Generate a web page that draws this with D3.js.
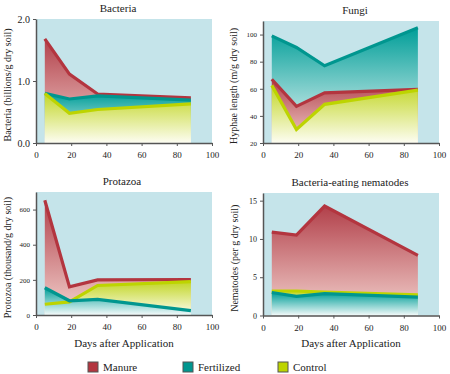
<!DOCTYPE html>
<html lang="en">
<head>
    <meta charset="UTF-8">
    <title>Soil organisms after application</title>
    <script src="https://d3js.org/d3.v7.min.js"></script>
    <style>
        body { margin: 0; background: #fff; }
        svg text { font-family: "Liberation Serif", "DejaVu Serif", Times, serif !important; fill: #222; }
    </style>
</head>
<body>
<div id="chart"></div>
<script>
    // data
    const days = [5, 19, 35, 88];
    const xTicks = [0, 20, 40, 60, 80, 100];
    const seriesNames = ["Manure", "Fertilized", "Control"];

    const bacteriaManure = [1.68, 1.11, 0.79, 0.73];
    const bacteriaFertilized = [0.80, 0.71, 0.76, 0.69];
    const bacteriaControl = [0.80, 0.48, 0.54, 0.63];
    const bacteriaTicks = [0, 1, 2];

    const fungiManure = [67, 47, 57, 59.5];
    const fungiFertilized = [99, 90.5, 77, 105];
    const fungiControl = [62.5, 30, 48.5, 59];
    const fungiTicks = [20, 40, 60, 80, 100];

    const protozoaManure = [653, 160, 200, 202];
    const protozoaFertilized = [155, 81, 89, 25];
    const protozoaControl = [61, 75, 168, 190];
    const protozoaTicks = [0, 200, 400, 600];

    const nematodeManure = [10.9, 10.5, 14.3, 7.85];
    const nematodeFertilized = [3.0, 2.5, 2.85, 2.4];
    const nematodeControl = [3.2, 3.2, 3.05, 2.7];
    const nematodeTicks = [0, 5, 10, 15];

    const lineColor = { Manure: "#b3353f", Fertilized: "#00968f", Control: "#bdd400" };
    const topColor = { Manure: "#b2404a", Fertilized: "#009e98", Control: "#c2d626" };
    const bottomColor = { Manure: "#f3d2ce", Fertilized: "#f4fafa", Control: "#fdfdf2" };

    const W = 450, H = 374;
    const svg = d3.select("#chart").append("svg")
        .attr("width", W).attr("height", H);
    const defs = svg.append("defs");

    seriesNames.forEach(name => {
        const g = defs.append("linearGradient")
            .attr("id", "grad-" + name)
            .attr("x1", 0).attr("y1", 0).attr("x2", 0).attr("y2", 1);
        g.append("stop").attr("offset", "0%").attr("stop-color", topColor[name]);
        g.append("stop").attr("offset", "100%").attr("stop-color", bottomColor[name]);
    });

    const panels = [
        {
            title: "Bacteria", ylabel: "Bacteria (billions/g dry soil)",
            left: 36, top: 19, bottom: 143, width: 176, yDomain: [0, 2],
            ticks: bacteriaTicks, fmt: d3.format(".1f"), tickSize: 10, titleX: 118, labelX: 7,
            series: { Manure: bacteriaManure, Fertilized: bacteriaFertilized, Control: bacteriaControl },
            order: ["Manure", "Fertilized", "Control"]
        },
        {
            title: "Fungi", ylabel: "Hyphae length (m/g dry soil)",
            left: 263, top: 21, bottom: 143, width: 176, yDomain: [20, 110],
            ticks: fungiTicks, fmt: d3.format("d"), tickSize: 7, titleX: 355, labelX: 233,
            series: { Manure: fungiManure, Fertilized: fungiFertilized, Control: fungiControl },
            order: ["Fertilized", "Manure", "Control"]
        },
        {
            title: "Protazoa", ylabel: "Protozoa (thousand/g dry soil)",
            left: 36, top: 192, bottom: 315, width: 176, yDomain: [0, 700],
            ticks: protozoaTicks, fmt: d3.format("d"), tickSize: 7, titleX: 122, labelX: 7,
            series: { Manure: protozoaManure, Fertilized: protozoaFertilized, Control: protozoaControl },
            order: ["Manure", "Control", "Fertilized"], xlabel: true
        },
        {
            title: "Bacteria-eating nematodes", ylabel: "Nematodes (per g dry soil)",
            left: 263, top: 193, bottom: 315.5, width: 176, yDomain: [0, 16],
            ticks: nematodeTicks, fmt: d3.format("d"), tickSize: 8, titleX: 350, labelX: 234,
            series: { Manure: nematodeManure, Fertilized: nematodeFertilized, Control: nematodeControl },
            order: ["Manure", "Control", "Fertilized"], xlabel: true
        }
    ];

    panels.forEach(p => {
        const x = d3.scaleLinear().domain([0, 100]).range([p.left, p.left + p.width]);
        const y = d3.scaleLinear().domain(p.yDomain).range([p.bottom, p.top]);
        const g = svg.append("g");

        // plot background
        g.append("rect")
            .attr("x", x(0)).attr("y", p.top)
            .attr("width", x(100) - x(0)).attr("height", p.bottom - p.top)
            .attr("fill", "#c5e4ea");

        const area = d3.area()
            .x((d, i) => x(days[i]))
            .y0(y(p.yDomain[0]))
            .y1(d => y(d));
        const line = d3.line()
            .x((d, i) => x(days[i]))
            .y(d => y(d));

        // areas back to front, then lines on top
        p.order.forEach(name => {
            g.append("path")
                .datum(p.series[name])
                .attr("d", area)
                .attr("fill", `url(#grad-${name})`);
        });
        p.order.forEach(name => {
            g.append("path")
                .datum(p.series[name])
                .attr("d", line)
                .attr("fill", "none")
                .attr("stroke", lineColor[name])
                .attr("stroke-width", 3.2)
                .attr("stroke-linejoin", "miter");
        });

        // axes
        const xAxis = g.append("g")
            .attr("transform", `translate(0,${p.bottom})`)
            .call(d3.axisBottom(x).tickValues(xTicks).tickSize(3).tickSizeOuter(0))
            .attr("font-family", null);
        xAxis.select(".domain").attr("stroke", "#555").attr("stroke-width", 1.5);
        xAxis.selectAll(".tick line").attr("stroke", "#555");
        xAxis.selectAll("text").style("font-size", "9px").attr("dy", "1em").attr("fill", "#222");

        const yAxis = g.append("g")
            .attr("transform", `translate(${p.left},0)`)
            .call(d3.axisLeft(y).tickValues(p.ticks).tickFormat(p.fmt).tickSize(3).tickSizeOuter(0))
            .attr("font-family", null);
        yAxis.select(".domain").attr("stroke", "#555").attr("stroke-width", 1.5);
        yAxis.selectAll(".tick line").attr("stroke", "#555");
        yAxis.selectAll("text").style("font-size", p.tickSize + "px").attr("fill", "#222");

        // title
        g.append("text")
            .attr("x", p.titleX).attr("y", p.top - 7)
            .attr("text-anchor", "middle")
            .style("font-size", "11px")
            .text(p.title);

        // y label
        g.append("text")
            .attr("transform", `translate(${p.labelX},${(p.top + p.bottom) / 2 + 4}) rotate(-90)`)
            .attr("text-anchor", "middle")
            .attr("dy", "0.35em")
            .style("font-size", "10px")
            .text(p.ylabel);

        if (p.xlabel) {
            g.append("text")
                .attr("x", (x(0) + x(100)) / 2).attr("y", 347)
                .attr("text-anchor", "middle")
                .style("font-size", "11px")
                .text("Days after Application");
        }
    });

    // legend
    const legendX = [88, 183, 278];
    const legend = svg.append("g");
    seriesNames.forEach((name, i) => {
        legend.append("rect")
            .attr("x", legendX[i]).attr("y", 362)
            .attr("width", 10).attr("height", 10)
            .attr("fill", lineColor[name])
            .attr("stroke", "#555").attr("stroke-width", 1);
        legend.append("text")
            .attr("x", legendX[i] + 15).attr("y", 371)
            .style("font-size", "11px")
            .text(name);
    });
</script>
</body>
</html>
